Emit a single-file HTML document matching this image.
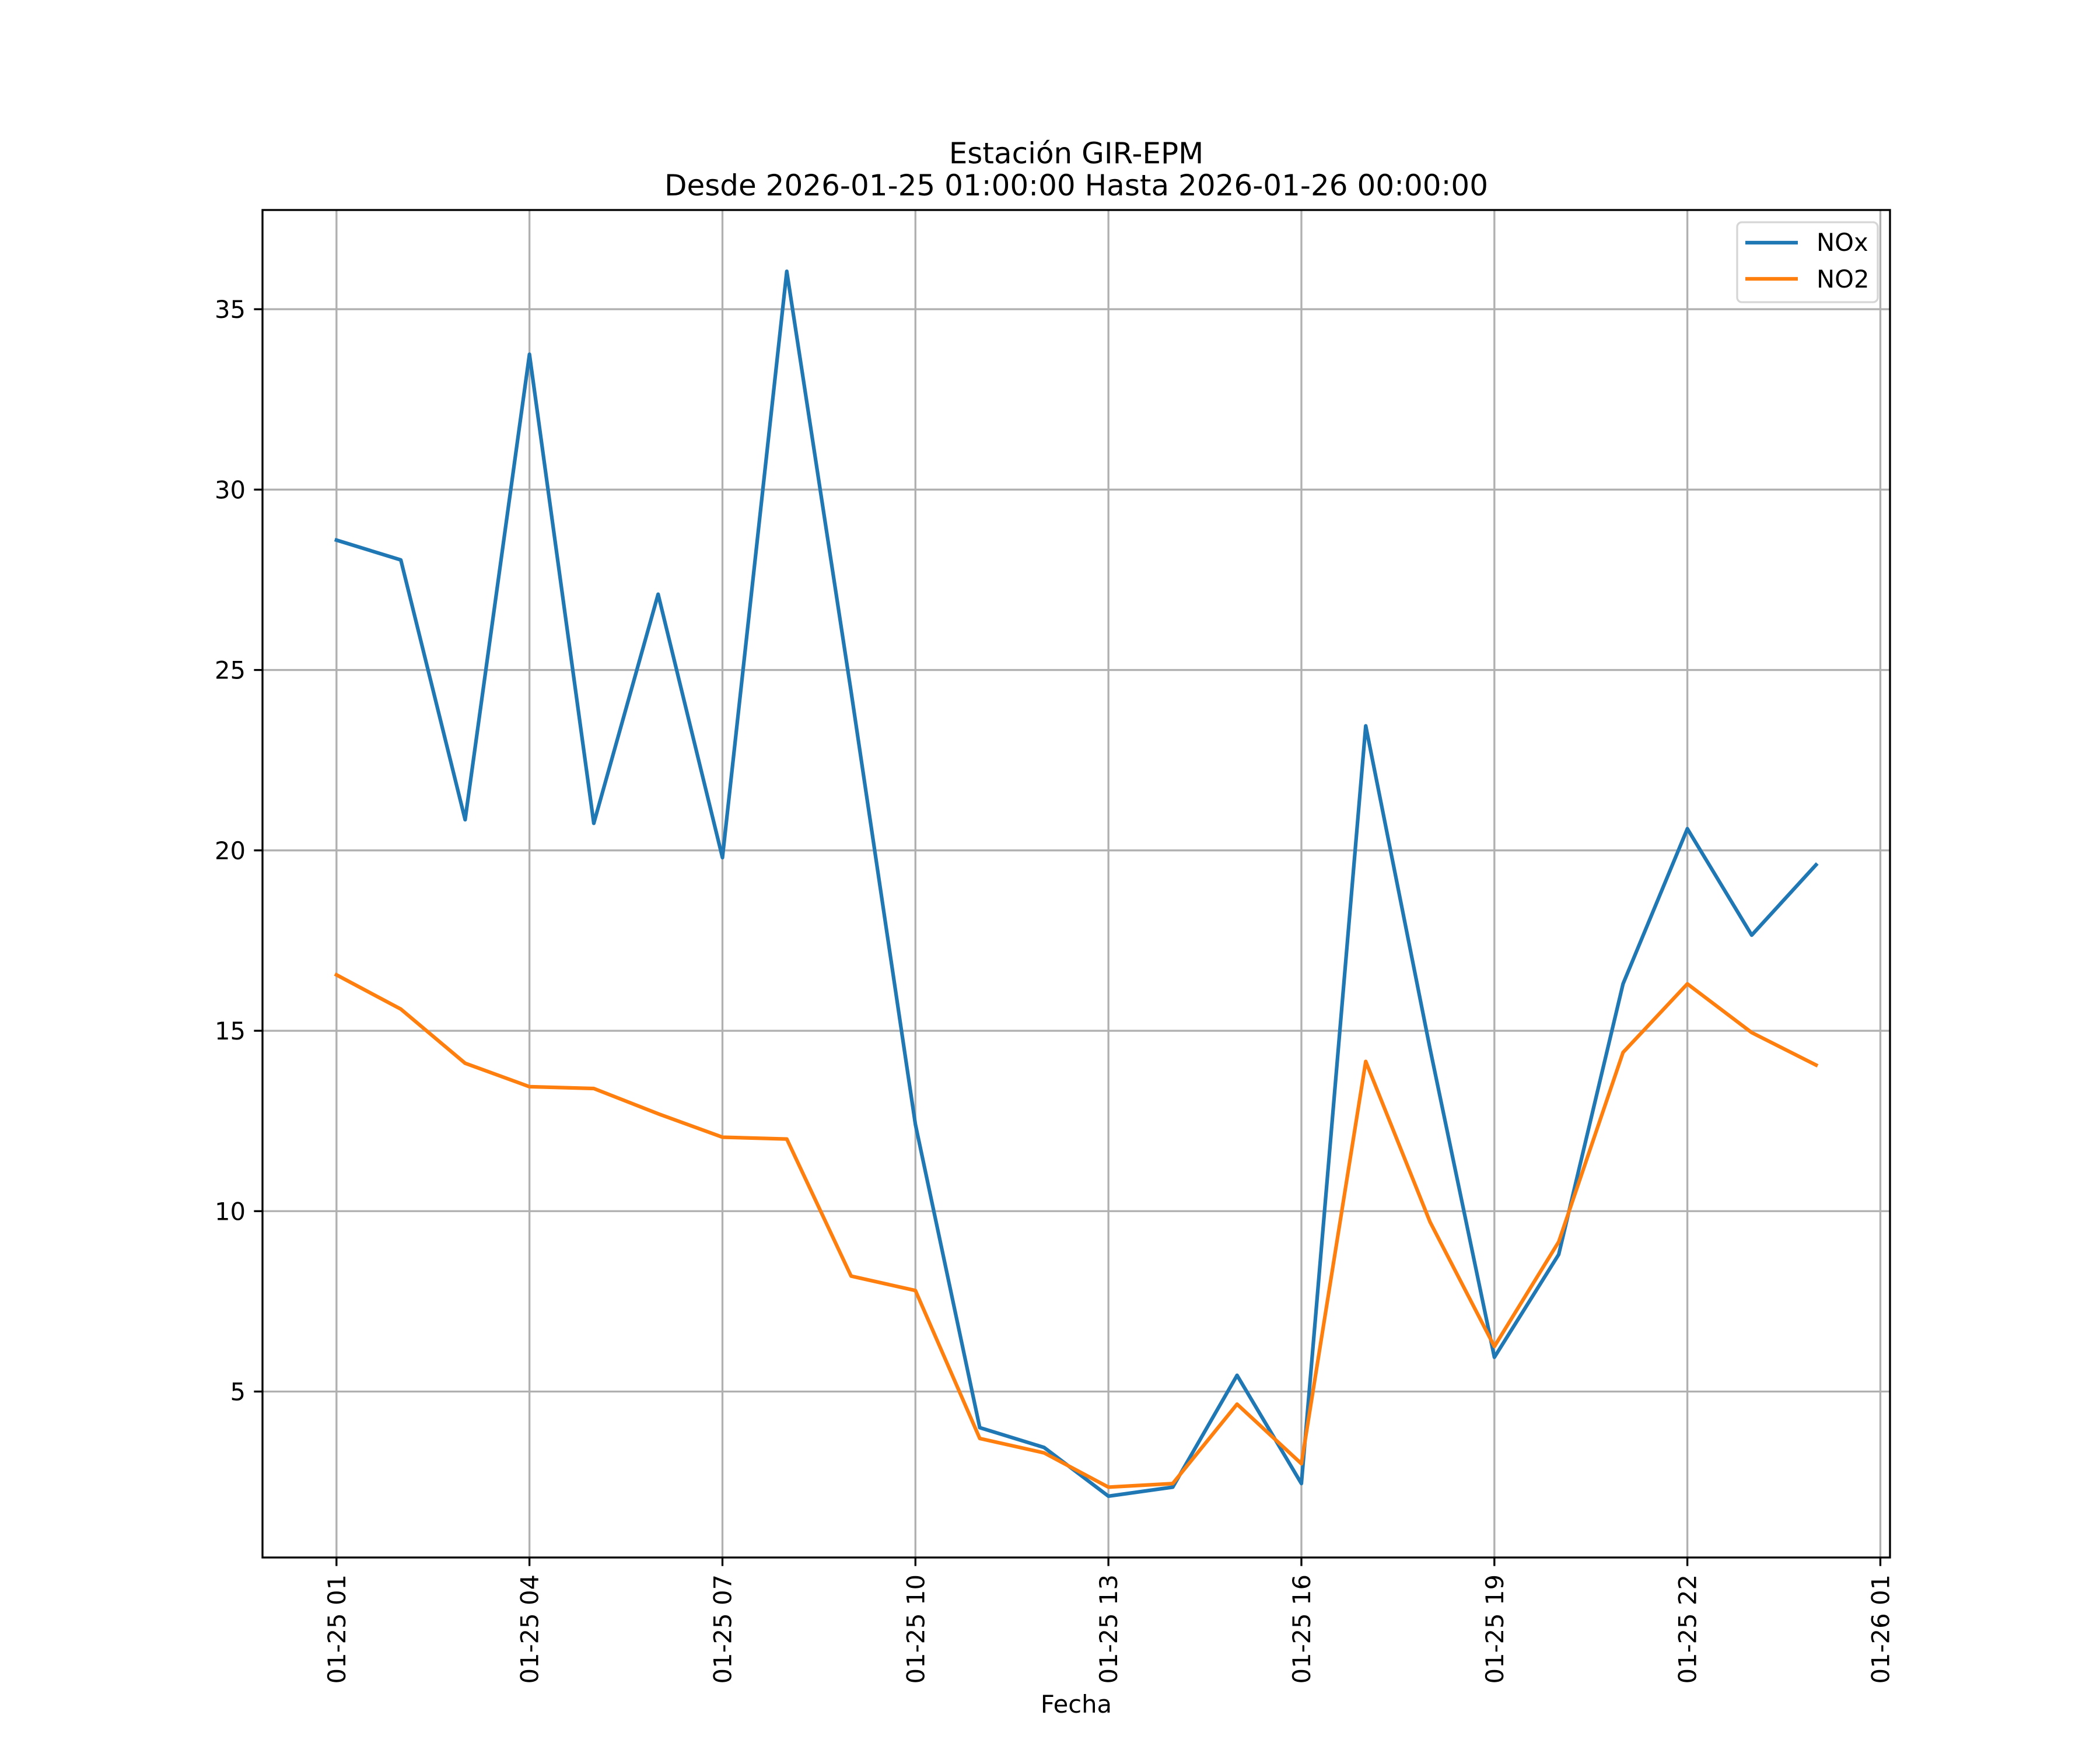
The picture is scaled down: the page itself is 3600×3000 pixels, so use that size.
<!DOCTYPE html>
<html><head><meta charset="utf-8"><style>
html,body{margin:0;padding:0;background:#fff;}
svg{display:block;font-family:"DejaVu Sans","Liberation Sans",sans-serif;}
</style></head><body>
<svg id="chart" width="3600" height="3000" viewBox="0 0 3600 3000" xmlns="http://www.w3.org/2000/svg">
<rect width="3600" height="3000" fill="#fff"/>
<text x="1845" y="280" font-size="50" text-anchor="middle">Estación GIR-EPM</text>
<text x="1845" y="335" font-size="50" text-anchor="middle">Desde 2026-01-25 01:00:00 Hasta 2026-01-26 00:00:00</text>
<g id="grid"></g>
<g id="series"></g>
<rect x="450" y="360" width="2790" height="2310" fill="none" stroke="#000" stroke-width="3.33"/>
<g id="ticks"></g>
<text x="1845" y="2936" font-size="41.7" text-anchor="middle">Fecha</text>
<g>
<rect x="2978" y="381" width="241" height="137" rx="8" fill="#fff" fill-opacity="0.8" stroke="#d6d6d6" stroke-width="3.33"/>
<line x1="2992" y1="416" x2="3082" y2="416" stroke="#1f77b4" stroke-width="6.25"/>
<text x="3114" y="430" font-size="41.7">NOx</text>
<line x1="2992" y1="478" x2="3082" y2="478" stroke="#ff7f0e" stroke-width="6.25"/>
<text x="3114" y="493" font-size="41.7">NO2</text>
</g>
</svg>
<script>
const hours = [1,2,3,4,5,6,7,8,9,10,11,12,13,14,15,16,17,18,19,20,21,22,23,24];
const noxValues = [28.6,28.05,20.85,33.75,20.75,27.1,19.8,36.05,24.4,12.4,4.0,3.45,2.1,2.35,5.45,2.45,23.45,14.5,5.95,8.8,16.3,20.6,17.65,19.6];
const no2Values = [16.55,15.6,14.1,13.45,13.4,12.7,12.05,12.0,8.2,7.8,3.7,3.3,2.35,2.45,4.65,3.0,14.15,9.7,6.25,9.15,14.4,16.3,14.95,14.05];
const xTickHours = [1,4,7,10,13,16,19,22,25];
const xTickLabels = ["01-25 01","01-25 04","01-25 07","01-25 10","01-25 13","01-25 16","01-25 19","01-25 22","01-26 01"];
const yTicks = [5,10,15,20,25,30,35];

const NS = "http://www.w3.org/2000/svg";
const L=450,R=3240,T=360,B=2670;
const xmin=-0.15,xmax=25.15,ymin=0.4,ymax=37.75;
const sx = h => L + (h - xmin) / (xmax - xmin) * (R - L);
const sy = v => B - (v - ymin) / (ymax - ymin) * (B - T);
function mk(tag, attrs, parent){const e=document.createElementNS(NS,tag);for(const k in attrs)e.setAttribute(k,attrs[k]);parent.appendChild(e);return e;}
const grid=document.getElementById('grid'), ticks=document.getElementById('ticks'), series=document.getElementById('series');
xTickHours.forEach((h,i)=>{
  const x=sx(h);
  const g=mk('line',{x1:x,y1:T,x2:x,y2:B,stroke:'#b0b0b0','stroke-width':3.33},grid);
  
  
  const t=mk('line',{x1:x,y1:B,x2:x,y2:B+14.6,stroke:'#000','stroke-width':3.33},ticks);
  
  
  const lb=mk('text',{x:0,y:0,'font-size':41.7,'text-anchor':'end',transform:`translate(${x+15},${B+29}) rotate(-90)`},ticks);
  lb.textContent=xTickLabels[i];
  
  
});
yTicks.forEach(v=>{
  const y=sy(v);
  const g=mk('line',{x1:L,y1:y,x2:R,y2:y,stroke:'#b0b0b0','stroke-width':3.33},grid);
  
  
  const t=mk('line',{x1:L-14.6,y1:y,x2:L,y2:y,stroke:'#000','stroke-width':3.33},ticks);
  
  
  const lb=mk('text',{x:L-29,y:y+15,'font-size':41.7,'text-anchor':'end'},ticks);
  lb.textContent=String(v);
  
  
});
function line(vals,color,name){
  const p=mk('polyline',{points:hours.map((h,i)=>sx(h)+','+sy(vals[i])).join(' '),fill:'none',stroke:color,'stroke-width':6.25,'stroke-linejoin':'round','stroke-linecap':'square'},series);
  
  
}
line(noxValues,'#1f77b4','nox-line');
line(no2Values,'#ff7f0e','no2-line');
</script>
</body></html>
